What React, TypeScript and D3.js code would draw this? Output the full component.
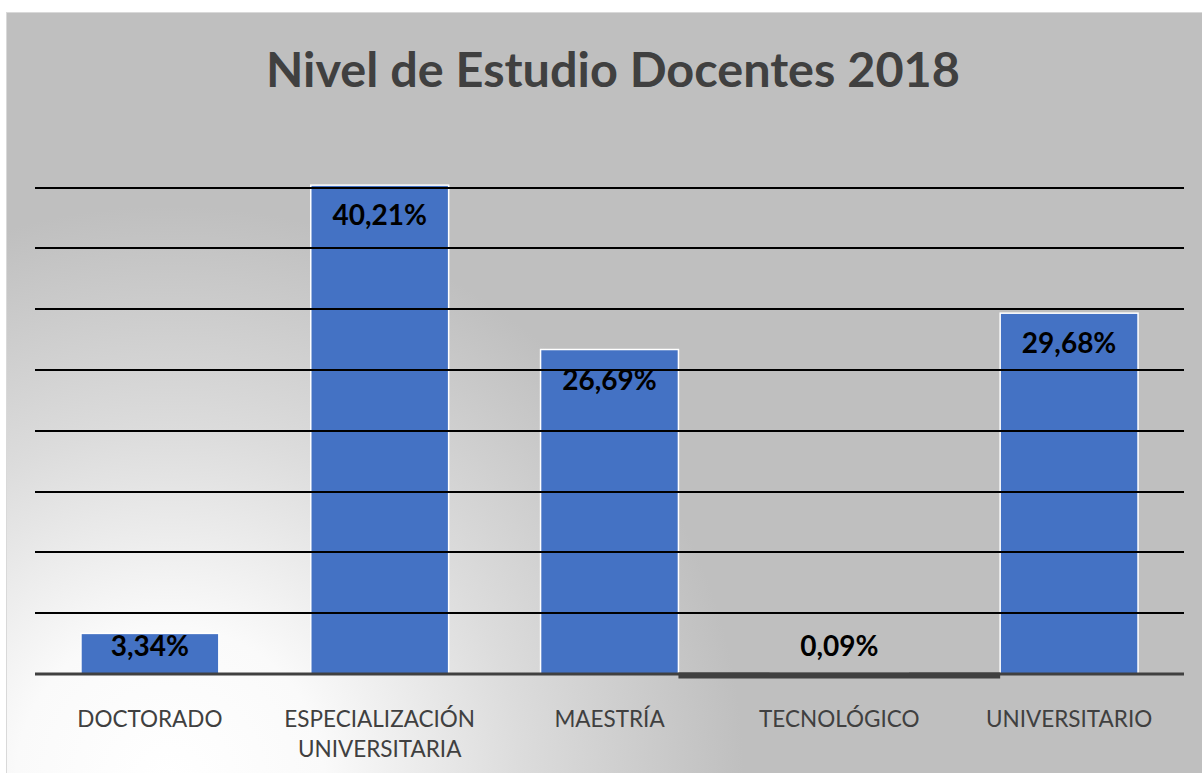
import React from "react";
import * as d3 from "d3";

const categories: string[][] = [
  ["DOCTORADO"],
  ["ESPECIALIZACIÓN", "UNIVERSITARIA"],
  ["MAESTRÍA"],
  ["TECNOLÓGICO"],
  ["UNIVERSITARIO"],
];
const values: number[] = [3.34, 40.21, 26.69, 0.09, 29.68];
const valueLabels: string[] = ["3,34%", "40,21%", "26,69%", "0,09%", "29,68%"];
const gridTicks: number[] = [0, 5, 10, 15, 20, 25, 30, 35, 40];
const title = "Nivel de Estudio Docentes 2018";

const W = 1202;
const H = 773;

export default function App() {
  const keys = categories.map((c) => c.join(" "));
  const x = d3.scaleBand<string>().domain(keys).range([35, 1184]).paddingInner(0.4).paddingOuter(0.2);
  const y = d3.scaleLinear().domain([0, 40]).range([674, 187.7]);
  const bw = x.bandwidth();
  const step = x.step();
  const font = "Lato, 'Open Sans', sans-serif";

  return (
    <svg width={W} height={H} style={{ position: "absolute", left: 0, top: 0, background: "#fff" }}>
      <defs>
        <radialGradient id="bg" gradientUnits="userSpaceOnUse" cx={170} cy={780} r={700}>
          <stop offset="0" stopColor="#ffffff" />
          <stop offset="0.22" stopColor="#fafafa" />
          <stop offset="0.5" stopColor="#dcdcdc" />
          <stop offset="0.82" stopColor="#bfbfbf" />
          <stop offset="1" stopColor="#bfbfbf" />
        </radialGradient>
      </defs>
      <rect x={0} y={0} width={W} height={H} fill="#ffffff" />
      <rect x={6.5} y={12.5} width={W} height={H} fill="url(#bg)" stroke="#d9d9d9" strokeWidth={1} />
      <text
        x={613}
        y={87}
        textAnchor="middle"
        fontFamily={font}
        fontWeight={700}
        fontSize={47}
        fill="#404040"
        textLength={694}
        lengthAdjust="spacingAndGlyphs"
      >
        {title}
      </text>

      {keys.map((k, i) => (
        <rect
          key={"b" + k}
          x={x(k)}
          y={y(values[i])}
          width={bw}
          height={y(0) - y(values[i])}
          fill="#4472c4"
          stroke="#ffffff"
          strokeWidth={1.5}
        />
      ))}

      {gridTicks
        .filter((t) => t > 0)
        .map((t) => (
          <line
            key={"g" + t}
            x1={35}
            x2={1184}
            y1={Math.round(y(t))}
            y2={Math.round(y(t))}
            stroke="#000"
            strokeWidth={2}
          />
        ))}

      <line x1={35} x2={1184} y1={y(0)} y2={y(0)} stroke="#404040" strokeWidth={3} />
      {keys.map((k, i) =>
        values[i] < 1 ? (
          <rect
            key={"z" + k}
            x={(x(k) as number) - (step - bw)}
            y={y(0) - 1.5}
            width={bw + 2 * (step - bw)}
            height={6}
            fill="#404040"
          />
        ) : null
      )}

      {keys.map((k, i) => (
        <text
          key={"v" + k}
          x={(x(k) as number) + bw / 2}
          y={Math.min(y(values[i]) + 40, y(0) - 18)}
          textAnchor="middle"
          fontFamily={font}
          fontWeight={700}
          fontSize={28}
          fill="#000"
        >
          {valueLabels[i]}
        </text>
      ))}

      {categories.map((lines, i) => (
        <text
          key={"c" + i}
          x={(x(keys[i]) as number) + bw / 2}
          y={727}
          textAnchor="middle"
          fontFamily={font}
          fontSize={22.5}
          fill="#404040"
        >
          {lines.map((l, j) => (
            <tspan key={j} x={(x(keys[i]) as number) + bw / 2} dy={j === 0 ? 0 : 30}>
              {l}
            </tspan>
          ))}
        </text>
      ))}
    </svg>
  );
}
